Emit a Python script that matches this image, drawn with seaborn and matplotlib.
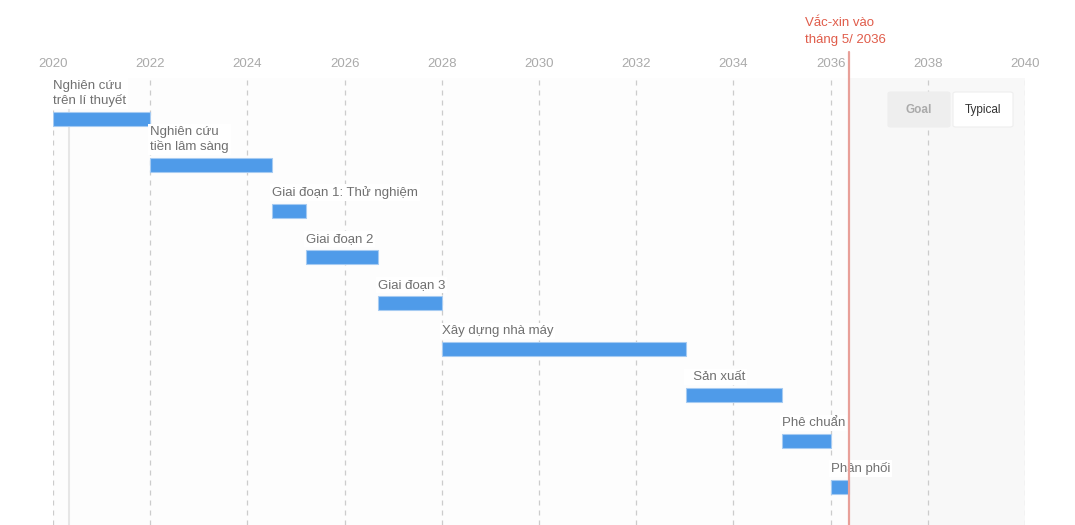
import numpy as np
import pandas as pd
import matplotlib
matplotlib.use("Agg")
import matplotlib.pyplot as plt
import matplotlib.patches as mpatches
import matplotlib.transforms as mtransforms
import seaborn as sns

tasks = ["Nghiên cứu\ntrên lí thuyết", "Nghiên cứu\ntiền lâm sàng", "Giai đoạn 1: Thử nghiệm",
         "Giai đoạn 2", "Giai đoạn 3", "Xây dựng nhà máy", "  Sản xuất", "Phê chuẩn", "Phân phối"]
start = [2020.0, 2022.0, 2024.5, 2025.2, 2026.68, 2028.0, 2033.02, 2035.0, 2036.0]
end = [2022.0, 2024.5, 2025.2, 2026.68, 2028.0, 2033.02, 2035.0, 2036.0, 2036.37]
tick_years = [2020, 2022, 2024, 2026, 2028, 2030, 2032, 2034, 2036, 2038, 2040]
vaccine_date = 2036.37
today = 2020.33
annotation = "Vắc-xin vào\ntháng 5/ 2036"
legend_labels = ["Goal", "Typical"]

sns.set_style("white")
plt.rcParams["font.family"] = ["Liberation Sans", "DejaVu Sans"]

W, H = 1075, 525
fig = plt.figure(figsize=(W / 100, H / 100), dpi=100)
fig.patch.set_facecolor("white")
ax = fig.add_axes([53 / W, 0, 972 / W, 447 / H])
ax.set_facecolor("#fdfdfd")

df = pd.DataFrame({"task": tasks, "start": start, "end": end})
df["dur"] = df["end"] - df["start"]

sns.barplot(data=df, x="dur", y="task", order=tasks, left=df["start"].values,
            color="#4f9be9", saturation=1, width=0.30, errorbar=None,
            edgecolor="#a6cbf2", linewidth=0.8, ax=ax, zorder=3)

ax.set_xlim(2020, 2040)
ax.set_ylim(8.826, -0.891)

# shaded future region
ax.axvspan(vaccine_date, 2040, color="#f8f8f8", zorder=0, lw=0)

# grid
for yr in tick_years:
    ax.axvline(yr, color="#cccccc", lw=0.9, ls=(0, (4, 4)), zorder=1)
ax.axvline(today, color="#e6e6e6", lw=1.5, zorder=1)

ax.xaxis.tick_top()
ax.set_xticks(tick_years)
ax.set_xticklabels([str(y) for y in tick_years])
ax.tick_params(axis="x", length=0, pad=5.5, labelsize=9.5, labelcolor="#aaaaaa")
ax.set_yticks([])
ax.set_xlabel("")
ax.set_ylabel("")
for s in ax.spines.values():
    s.set_visible(False)

# labels above bars
for i, (t, s0) in enumerate(zip(tasks, start)):
    ax.text(s0, i - 0.26, t, ha="left", va="bottom", fontsize=9.5, color="#707070",
            linespacing=1.2, zorder=4,
            bbox=dict(boxstyle="square,pad=0.15", fc="white", ec="none"))

# vaccine line
trans = mtransforms.blended_transform_factory(ax.transData, ax.transAxes)
ax.plot([vaccine_date, vaccine_date], [0, 1.058], transform=trans, color="#e8a099",
        lw=1.6, clip_on=False, zorder=5)
ax.text(2035.47, 1.072, annotation, transform=trans, ha="left", va="bottom",
        fontsize=9.5, color="#e05c4a", linespacing=1.5)

# legend buttons
def fig_box(x0, y0, x1, y1, fc, ec):
    p = mpatches.FancyBboxPatch((x0 / W, 1 - y1 / H), (x1 - x0) / W, (y1 - y0) / H,
                                boxstyle="round,pad=0,rounding_size=0.003",
                                transform=fig.transFigure, fc=fc, ec=ec, lw=0.8, zorder=10)
    fig.add_artist(p)

fig_box(888, 92, 950, 127, "#eeeeee", "#eeeeee")
fig_box(953, 92, 1013, 127, "white", "#eeeeee")
fig.text(919 / W, 1 - 110 / H, legend_labels[0], ha="center", va="center", fontsize=8.5,
         color="#aaaaaa", fontweight="bold", zorder=11)
fig.text(983 / W, 1 - 110 / H, legend_labels[1], ha="center", va="center", fontsize=8.5,
         color="#333333", zorder=11)

fig.savefig("out.png", dpi=100)
